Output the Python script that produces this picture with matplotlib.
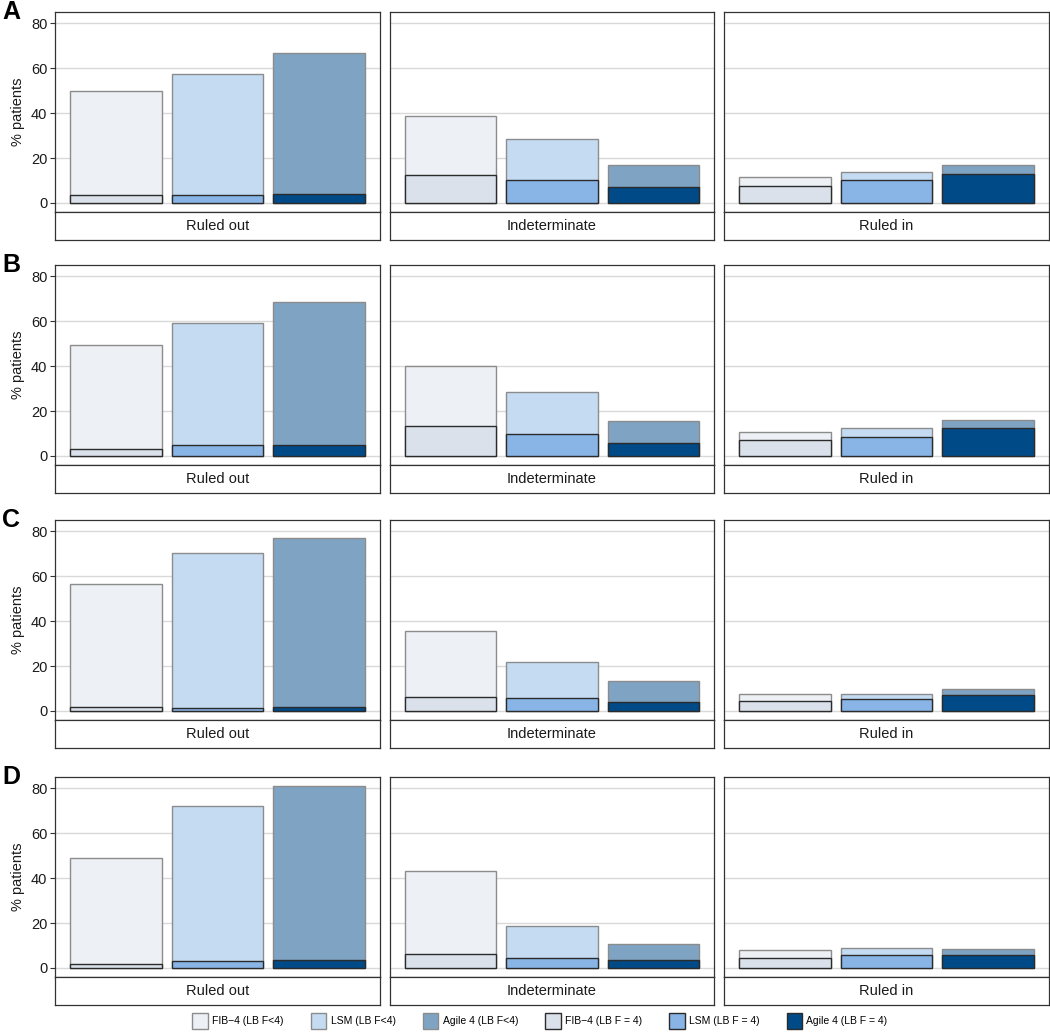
import matplotlib
matplotlib.use("Agg")
import matplotlib.pyplot as plt
from matplotlib.patches import Patch
import numpy as np

plt.rcParams['font.family'] = ['Liberation Sans', 'DejaVu Sans']

# ---------------- data ----------------
categories = ["Ruled out", "Indeterminate", "Ruled in"]
tests = ["FIB\u22124", "LSM", "Agile 4"]
panel_labels = ["A", "B", "C", "D"]

# total % patients per (category, test)  -> light bars (LB F<4 displayed as total)
A_total = [[50.0, 57.5, 66.8], [38.8, 28.6, 16.8], [11.4, 13.9, 16.8]]
A_f4    = [[3.7, 3.4, 3.8],    [12.3, 10.0, 7.0],  [7.6, 10.2, 13.0]]
B_total = [[49.5, 59.1, 68.5], [39.9, 28.6, 15.6], [10.8, 12.5, 16.1]]
B_f4    = [[3.0, 4.7, 4.8],    [13.4, 9.9, 5.9],   [7.1, 8.6, 12.5]]
C_total = [[56.6, 70.2, 77.1], [35.7, 22.0, 13.2], [7.7, 7.7, 9.7]]
C_f4    = [[1.8, 1.5, 1.7],    [6.4, 5.9, 4.0],    [4.3, 5.1, 6.9]]
D_total = [[49.1, 72.3, 80.9], [43.0, 18.6, 10.8], [8.0, 9.0, 8.4]]
D_f4    = [[1.8, 3.0, 3.6],    [6.3, 4.2, 3.5],    [4.4, 5.6, 5.7]]

totals = [A_total, B_total, C_total, D_total]
f4s = [A_f4, B_f4, C_f4, D_f4]

legend_labels = ["FIB\u22124 (LB F<4)", "LSM (LB F<4)", "Agile 4 (LB F<4)",
                 "FIB\u22124 (LB F = 4)", "LSM (LB F = 4)", "Agile 4 (LB F = 4)"]
yticks = [0, 20, 40, 60, 80]

# ---------------- style ----------------
dark_cols = ["#DAE1EA", "#88B5E6", "#004A87"]
light_cols = ["#EDF0F4", "#C4DBF2", "#7FA4C3"]
light_edge = "#8C8C8C"
dark_edge = "#2B2B2B"
frame_col = "#333333"
grid_col = "#D9D9D9"

W, H = 1050, 1036
fig = plt.figure(figsize=(W / 100, H / 100), dpi=100)

def rect(x0, y0, x1, y1):
    return [x0 / W, 1 - y1 / H, (x1 - x0) / W, (y1 - y0) / H]

col_x = [(55, 380), (390, 714), (724, 1049)]
row_y = [(12, 212, 240), (265, 465, 493), (520, 720, 748), (777, 977, 1005)]

x = np.arange(1, 4)
for r in range(4):
    top, mid, bot = row_y[r]
    for c in range(3):
        x0, x1 = col_x[c]
        ax = fig.add_axes(rect(x0, top, x1, mid))
        tot = totals[r][c]
        f4 = f4s[r][c]
        ax.set_axisbelow(True)
        ax.grid(axis='y', color=grid_col, lw=1.0)
        ax.bar(x, tot, width=0.9, color=light_cols, edgecolor=light_edge, lw=1.0, zorder=2)
        ax.bar(x, f4, width=0.9, color=dark_cols, edgecolor=dark_edge, lw=1.0, zorder=3)
        ax.set_xlim(0.4, 3.6)
        ax.set_ylim(-4.05, 85.05)
        ax.set_yticks(yticks)
        ax.set_xticks([])
        for s in ax.spines.values():
            s.set_color(frame_col)
            s.set_linewidth(0.9)
        if c == 0:
            ax.tick_params(axis='y', length=3.5, width=0.8, color=frame_col,
                           labelsize=10.5, labelcolor='#1a1a1a', pad=2)
            ax.set_ylabel("% patients", fontsize=10.5, labelpad=4, color='#1a1a1a')
        else:
            ax.tick_params(axis='y', length=0, labelleft=False)
        # strip at bottom
        sax = fig.add_axes(rect(x0, mid, x1, bot))
        sax.set_xticks([]); sax.set_yticks([])
        for s in sax.spines.values():
            s.set_color(frame_col)
            s.set_linewidth(0.9)
        sax.text(0.5, 0.5, categories[c], ha='center', va='center',
                 fontsize=10.5, color='#1a1a1a', transform=sax.transAxes)
    fig.text(2 / W, 1 - (top - 12) / H, panel_labels[r], fontsize=18, fontweight='bold',
             ha='left', va='top')

handles = [Patch(facecolor=light_cols[i], edgecolor=light_edge, lw=1.0) for i in range(3)] + \
          [Patch(facecolor=dark_cols[i], edgecolor=dark_edge, lw=1.0) for i in range(3)]
fig.legend(handles, legend_labels, loc='center', bbox_to_anchor=(540 / W, 1 - 1021 / H),
           ncol=6, frameon=False, fontsize=7.5, handlelength=1.5, handleheight=1.9,
           handletextpad=0.4, columnspacing=2.6)

fig.savefig("out.png", dpi=100)
